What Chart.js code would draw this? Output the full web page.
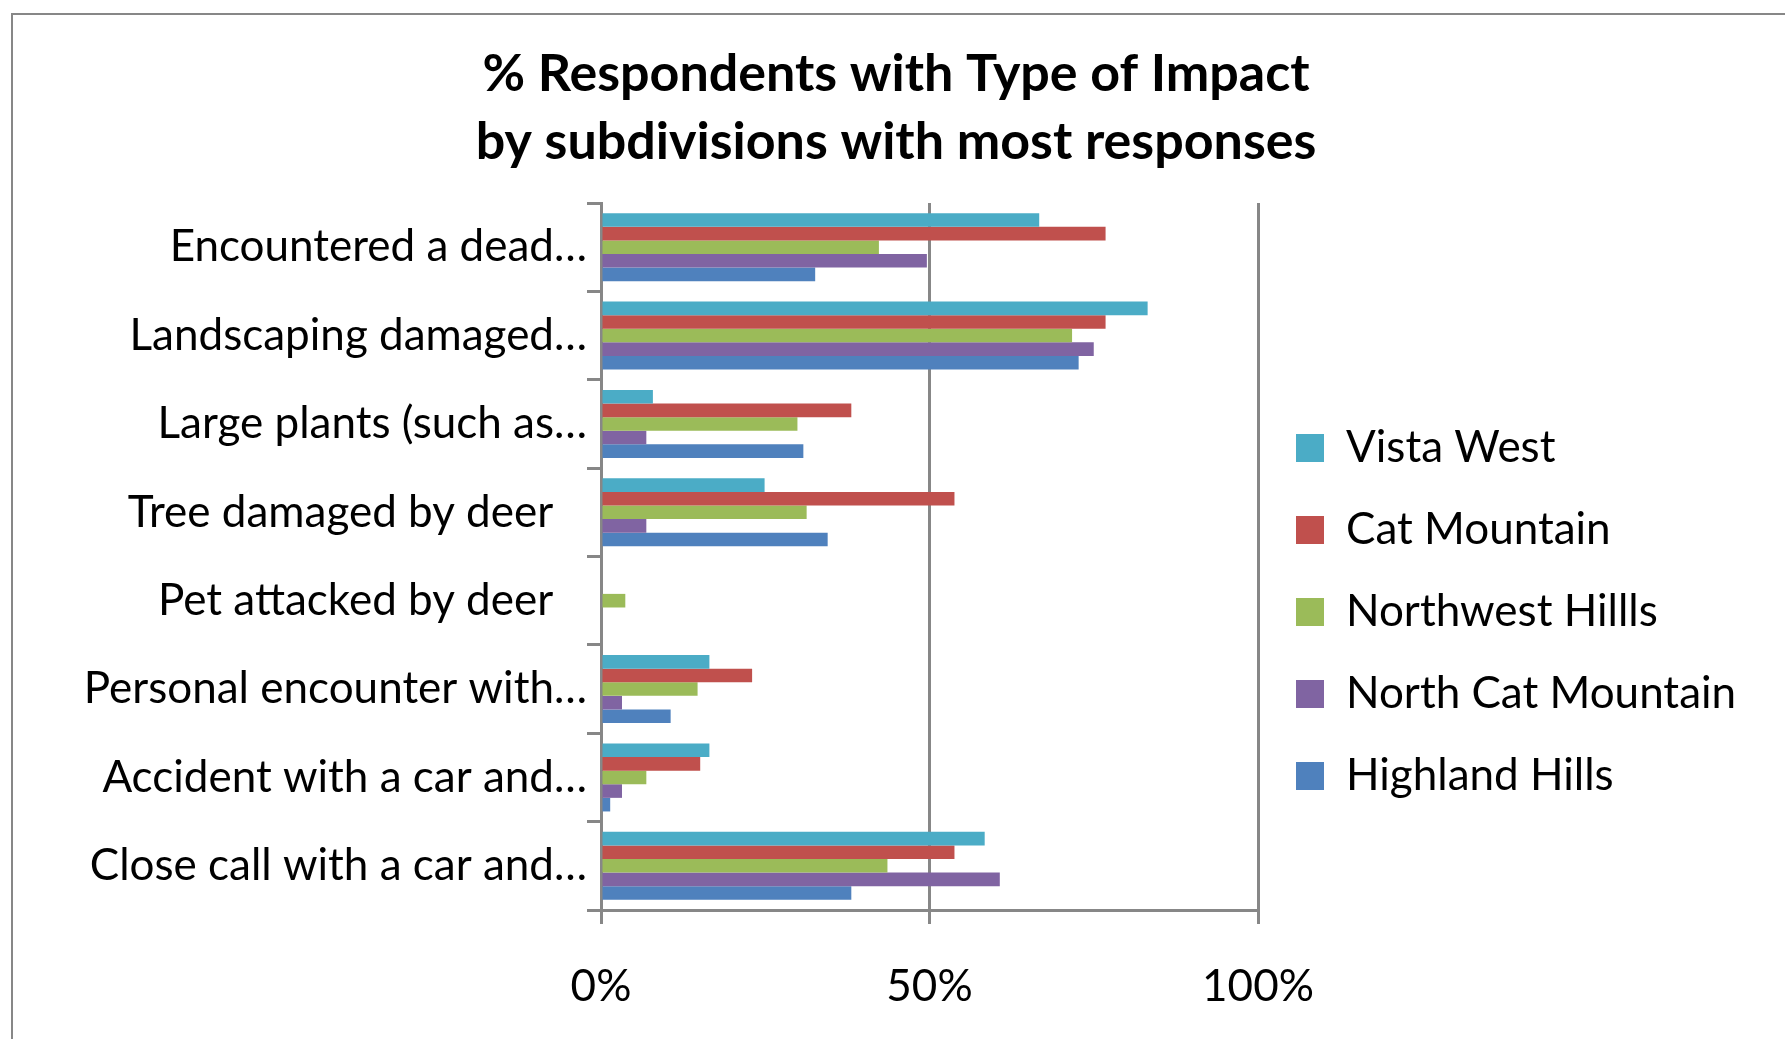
<!DOCTYPE html>
<html lang="en">
    <head>
        <meta charset="utf-8" />
        <script src="https://cdn.jsdelivr.net/npm/chart.js@4.4.1/dist/chart.umd.min.js"></script>
        <title>Type of Impact by subdivision</title>
        <style>
            html, body { margin: 0; padding: 0; background: #fff; }
            canvas { display: block; }
        </style>
    </head>
    <body>
        <canvas id="impacto" width="1785" height="1039"></canvas>
        <script>
            const categorias = [
                "Encountered a dead…",
                "Landscaping damaged…",
                "Large plants (such as…",
                "Tree damaged by deer",
                "Pet attacked by deer",
                "Personal encounter with…",
                "Accident with a car and…",
                "Close call with a car and…"
            ];
            const subdivisiones = ["Vista West", "Cat Mountain", "Northwest Hillls", "North Cat Mountain", "Highland Hills"];
            const vistaWest = [66.7, 83.2, 7.9, 24.9, 0, 16.5, 16.5, 58.4];
            const catMountain = [76.8, 76.8, 38.1, 53.8, 0, 23.0, 15.1, 53.8];
            const northwestHills = [42.3, 71.7, 29.9, 31.3, 3.7, 14.7, 6.9, 43.6];
            const northCatMountain = [49.6, 75.0, 6.9, 6.9, 0, 3.2, 3.2, 60.7];
            const highlandHills = [32.6, 72.7, 30.8, 34.5, 0, 10.6, 1.4, 38.1];
            const colores = ["#4BACC6", "#C0504D", "#9BBB59", "#8064A2", "#4F81BD"];
            const titulo = ["% Respondents with Type of Impact", "by subdivisions with most responses"];

            const gris = "#878787";
            const fuente = "Lato";
            const tamLeyenda = 44;
            const padIzquierdo = 46;

            // ancho de la leyenda para que el area del grafico termine en x = 1258
            const medidor = document.createElement("canvas").getContext("2d");
            medidor.font = "normal " + tamLeyenda + "px " + fuente;
            const anchoTexto = Math.max(...subdivisiones.map(s => medidor.measureText(s).width));
            const anchoLeyenda = 38 + 28 + tamLeyenda / 2 + anchoTexto + 10;
            const padDerecho = Math.max(0, 1785 - 1258 - anchoLeyenda);

            const marco = {
                id: "marco",
                beforeDraw(chart) {
                    const ctx = chart.ctx;
                    ctx.save();
                    ctx.fillStyle = "#fff";
                    ctx.fillRect(0, 0, chart.width, chart.height);
                    ctx.strokeStyle = gris;
                    ctx.lineWidth = 2;
                    ctx.strokeRect(12, 14, 2000, 2000);
                    ctx.restore();
                }
            };

            Chart.defaults.color = "#000";
            Chart.defaults.font.family = fuente;

            new Chart(document.getElementById("impacto").getContext("2d"), {
                type: "bar",
                data: {
                    labels: categorias,
                    datasets: [vistaWest, catMountain, northwestHills, northCatMountain, highlandHills].map((serie, i) => ({
                        label: subdivisiones[i],
                        data: serie,
                        backgroundColor: colores[i],
                        borderWidth: 0,
                        barPercentage: 1,
                        categoryPercentage: 0.77
                    }))
                },
                options: {
                    indexAxis: "y",
                    responsive: false,
                    animation: false,
                    layout: { padding: { left: padIzquierdo, right: padDerecho, top: 14, bottom: 10 } },
                    scales: {
                        x: {
                            min: 0,
                            max: 100,
                            ticks: {
                                stepSize: 50,
                                padding: 36,
                                font: { size: 44 },
                                callback: (v) => v + "%"
                            },
                            grid: { color: gris, lineWidth: 3, tickLength: 14, tickColor: gris, tickWidth: 3 },
                            border: { display: true, color: gris, width: 3 },
                            afterFit(escala) { escala.height = 1039 - 10 - 910; }
                        },
                        y: {
                            ticks: {
                                padding: 0,
                                font: { size: 44 },
                                callback: function (v) {
                                    const t = this.getLabelForValue(v);
                                    return t.endsWith("…") ? t : t + "   ";
                                }
                            },
                            grid: { drawOnChartArea: false, tickLength: 14, tickColor: gris, tickWidth: 3 },
                            border: { display: true, color: gris, width: 3 },
                            afterFit(escala) { escala.width = 601 - padIzquierdo; }
                        }
                    },
                    plugins: {
                        title: {
                            display: true,
                            text: titulo,
                            font: { size: 52, weight: "bold", lineHeight: 68 / 52 },
                            padding: { top: 26, bottom: 27 }
                        },
                        legend: {
                            position: "right",
                            align: "center",
                            maxWidth: 700,
                            title: { display: true, text: " ", font: { size: 10 }, padding: { top: 169, bottom: 0 } },
                            labels: {
                                boxWidth: 28,
                                boxHeight: 28,
                                padding: 38,
                                font: { size: tamLeyenda }
                            }
                        },
                        tooltip: { enabled: false }
                    }
                },
                plugins: [marco]
            });
        </script>
    </body>
</html>
